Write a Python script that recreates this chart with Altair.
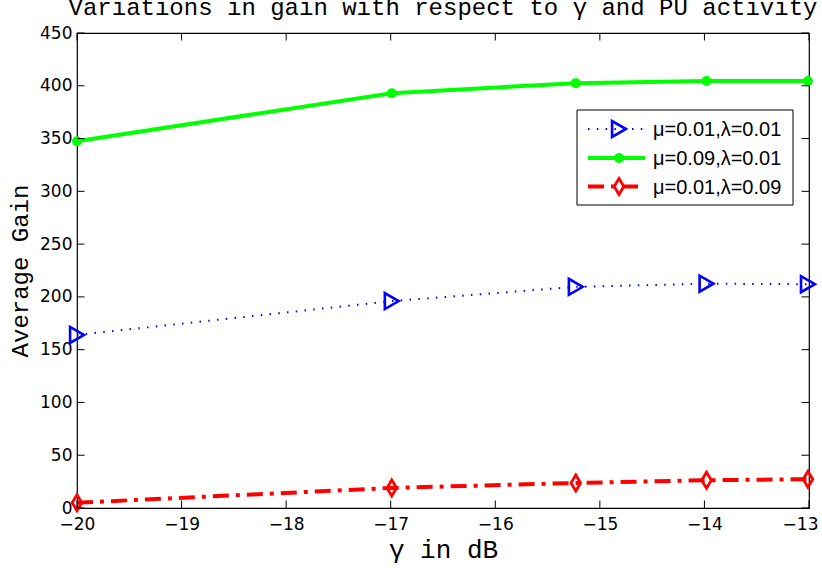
import altair as alt
import pandas as pd

# ---- data ----
gamma_db = [-20.0, -16.99, -15.23, -13.98, -13.01]
gain_mu001_lam001 = [164.0, 196.0, 209.5, 212.5, 212.0]
gain_mu009_lam001 = [347.5, 393.0, 402.5, 404.5, 404.5]
gain_mu001_lam009 = [5.0, 19.0, 23.7, 26.3, 27.3]
series_labels = ["μ=0.01,λ=0.01", "μ=0.09,λ=0.01", "μ=0.01,λ=0.09"]
x_ticks = [-20, -19, -18, -17, -16, -15, -14, -13]
y_ticks = [0, 50, 100, 150, 200, 250, 300, 350, 400, 450]
chart_title = "Variations in gain with respect to γ and PU activity"

W, H = 732, 475
TICK = 7.5
MONO = "Liberation Mono"

xscale = alt.Scale(domain=[-20, -13], nice=False, zero=False)
yscale = alt.Scale(domain=[0, 450], nice=False, zero=False)

xaxis = alt.Axis(
    values=x_ticks, ticks=False, domain=False, grid=False,
    labelFont="DejaVu Sans", labelFontSize=17, labelColor="black",
    labelPadding=8, labelFlush=False, labelOverlap=False, format="d",
    labelAlign={"expr": "datum.value == -13 ? 'right' : 'center'"},
    labelOffset={"expr": "datum.value == -13 ? 9 : 0"},
    title="γ in dB", titleFont=MONO, titleFontSize=26,
    titleFontWeight="normal", titleColor="black",
    titleBaseline="alphabetic", titleY=49,
)
yaxis = alt.Axis(
    values=y_ticks, ticks=False, domain=False, grid=False,
    labelFont="DejaVu Sans", labelFontSize=17, labelColor="black",
    labelPadding=5, labelFlush=False, labelOverlap=False,
    title="Average Gain", titleFont=MONO, titleFontSize=24,
    titleFontWeight="normal", titleColor="black", titleAngle=270,
    titleAlign="center", titleBaseline="alphabetic", titleX=-50, titleY=H / 2,
)


def X(field="x"):
    return alt.X(f"{field}:Q", scale=xscale, axis=xaxis)


def Y(field="y"):
    return alt.Y(f"{field}:Q", scale=yscale, axis=yaxis)


DIAMOND = "M0,-1L0.6,0L0,1L-0.6,0Z"

styles = [
    dict(color="#0000ff", width=2, dash=[1.5, 7.3], shape="triangle-right",
         filled=False, size=256, mstroke=2.6),
    dict(color="#00ff00", width=4, dash=None, shape="circle",
         filled=True, size=100, mstroke=0),
    dict(color="#ff0000", width=4, dash=[16, 7, 4, 7], shape=DIAMOND,
         filled=False, size=256, mstroke=2.8),
]
series_values = [gain_mu001_lam001, gain_mu009_lam001, gain_mu001_lam009]

layers = []
for vals, st in zip(series_values, styles):
    df = pd.DataFrame({"x": gamma_db, "y": vals})
    line_kw = dict(color=st["color"], strokeWidth=st["width"], clip=False)
    if st["dash"]:
        line_kw["strokeDash"] = st["dash"]
    layers.append(alt.Chart(df).mark_line(**line_kw).encode(x=X(), y=Y()))
    pt_kw = dict(shape=st["shape"], filled=st["filled"], size=st["size"],
                 color=st["color"], opacity=1, clip=False)
    if not st["filled"]:
        pt_kw["strokeWidth"] = st["mstroke"]
    layers.append(alt.Chart(df).mark_point(**pt_kw).encode(x=X(), y=Y()))

# inward ticks on all four sides
xt = pd.DataFrame({"x": x_ticks})
yt = pd.DataFrame({"y": y_ticks})
tick_kw = dict(color="black", strokeWidth=1)
layers.append(alt.Chart(xt).mark_rule(**tick_kw).encode(
    x=X(), y=alt.value(H), y2=alt.value(H - TICK)))
layers.append(alt.Chart(xt).mark_rule(**tick_kw).encode(
    x=X(), y=alt.value(0), y2=alt.value(TICK)))
layers.append(alt.Chart(yt).mark_rule(**tick_kw).encode(
    y=Y(), x=alt.value(0), x2=alt.value(TICK)))
layers.append(alt.Chart(yt).mark_rule(**tick_kw).encode(
    y=Y(), x=alt.value(W), x2=alt.value(W - TICK)))

one = pd.DataFrame({"k": [0]})

# chart title (above the plot box)
layers.append(alt.Chart(one).mark_text(
    text=chart_title, font=MONO, fontSize=24, color="black",
    align="center", baseline="alphabetic").encode(
    x=alt.value(W / 2), y=alt.value(-18)))

# legend box (drawn in pixel space inside the plot)
LX0, LX1, LY0, LY1 = 500, 716, 77, 172
layers.append(alt.Chart(one).mark_rect(fill="white", stroke="black", strokeWidth=1).encode(
    x=alt.value(LX0), x2=alt.value(LX1), y=alt.value(LY0), y2=alt.value(LY1)))
row_y = [96, 125, 153.5]
for label, st, ry in zip(series_labels, styles, row_y):
    rk = dict(color=st["color"], strokeWidth=st["width"])
    if st["dash"]:
        rk["strokeDash"] = st["dash"]
    layers.append(alt.Chart(one).mark_rule(**rk).encode(
        x=alt.value(511), x2=alt.value(568), y=alt.value(ry)))
    pk = dict(shape=st["shape"], filled=st["filled"], size=st["size"],
              color=st["color"], opacity=1)
    if not st["filled"]:
        pk["strokeWidth"] = st["mstroke"]
    layers.append(alt.Chart(one).mark_point(**pk).encode(
        x=alt.value(542), y=alt.value(ry)))
    layers.append(alt.Chart(one).mark_text(
        text=label, font="Liberation Sans", fontSize=20, color="black",
        align="left", baseline="middle").encode(
        x=alt.value(576), y=alt.value(ry + 1)))

chart = alt.layer(*layers).properties(
    width=W, height=H,
    autosize=alt.AutoSizeParams(type="none"),
    padding={"left": 77, "top": 33, "right": 13, "bottom": 66},
    background="white",
).configure_view(stroke="black", strokeWidth=1.2)

chart.save("out.html", embed_options={"renderer": "svg", "actions": False})
